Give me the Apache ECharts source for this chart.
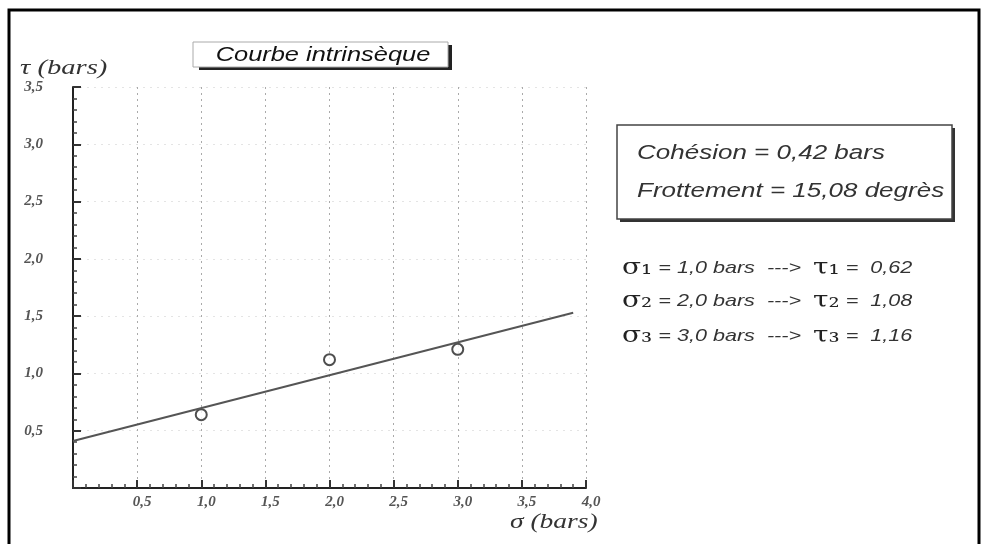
<!DOCTYPE html>
<html>
<head>
<meta charset="utf-8">
<script src="https://cdn.jsdelivr.net/npm/echarts@6/dist/echarts.min.js"></script>
<style>html,body{margin:0;padding:0;background:#fff}#c{width:988px;height:544px}</style>
</head>
<body>
<div id="c"></div>
<script>
// ---- data ----
const xTicks = [0, 0.5, 1.0, 1.5, 2.0, 2.5, 3.0, 3.5, 4.0];
const yTicks = [0, 0.5, 1.0, 1.5, 2.0, 2.5, 3.0, 3.5];
const pointSigma = [1.0, 2.0, 3.0];
const pointTau = [0.64, 1.12, 1.21];
const lineSigma = [0, 3.9];
const lineTau = [0.41, 1.53];
const sigmaText = ['1,0', '2,0', '3,0'];
const tauText = ['0,62', '1,08', '1,16'];
const titleText = 'Courbe intrinsèque';
const cohesionText = 'Cohésion = 0,42 bars';
const frottementText = 'Frottement = 15,08 degrès';
const yName = 'τ (bars)';
const xName = 'σ (bars)';

const fmt = v => (v === 0 ? '' : v.toFixed(1).replace('.', ','));
const subs = ['₁', '₂', '₃'];

const chart = echarts.init(document.getElementById('c'));
const lineY = [268, 301, 336];
const resultLines = sigmaText.map((s, i) => ({
  type: 'text', x: 622, y: lineY[i], scaleX: 1.27,
  style: {
    x: 0, y: 0, align: 'left', verticalAlign: 'middle',
    text: '{g|σ' + subs[i] + '}{t| = ' + s + ' bars  --->  }{g|τ' + subs[i] + '}{t| =  ' + tauText[i] + '}',
    rich: {
      g: { fontFamily: 'DejaVu Serif', fontSize: 22, fill: '#222' },
      t: { fontFamily: 'Liberation Sans', fontStyle: 'italic', fontSize: 17, fill: '#333' }
    }
  }
}));

function txt(x, y, text, font, fill, align, sx) {
  return { type: 'text', x: x, y: y, scaleX: sx || 1.2,
    style: { x: 0, y: 0, text: text, font: font, fill: fill, align: align || 'left', verticalAlign: 'middle' } };
}

chart.setOption({
  animation: false,
  backgroundColor: '#fff',
  grid: { left: 73, right: 402, top: 87, bottom: 56 },
  xAxis: {
    type: 'value', min: 0, max: 4, interval: 0.5,
    axisLine: { lineStyle: { color: '#222', width: 2 } },
    axisTick: { show: true, inside: true, length: 8, lineStyle: { color: '#333', width: 2 } },
    minorTick: { show: true, splitNumber: 5, length: 4, lineStyle: { color: '#444', width: 1.5 } },
    splitLine: { show: true, lineStyle: { color: '#aaa', type: [2, 4], width: 1 } },
    axisLabel: { formatter: fmt, fontFamily: 'Liberation Serif', fontStyle: 'italic', fontWeight: 'bold', fontSize: 15, color: '#555', margin: 7, padding: [0, 0, 0, 10] }
  },
  yAxis: {
    type: 'value', min: 0, max: 3.5, interval: 0.5,
    axisLine: { show: true, lineStyle: { color: '#222', width: 2 } },
    axisTick: { show: true, inside: true, length: 8, lineStyle: { color: '#333', width: 2 } },
    minorTick: { show: true, splitNumber: 5, length: 4, lineStyle: { color: '#444', width: 1.5 } },
    splitLine: { show: true, lineStyle: { color: '#e4e4e4', type: [2, 5], width: 1 } },
    axisLabel: { formatter: fmt, fontFamily: 'Liberation Serif', fontStyle: 'italic', fontWeight: 'bold', fontSize: 15, color: '#555', margin: 30 }
  },
  series: [
    {
      type: 'line', data: lineSigma.map((x, i) => [x, lineTau[i]]),
      symbol: 'none', lineStyle: { color: '#555', width: 2 }
    },
    {
      type: 'scatter', data: pointSigma.map((x, i) => [x, pointTau[i]]),
      symbol: 'circle', symbolSize: 11,
      itemStyle: { color: '#fff', borderColor: '#222', borderWidth: 2 }
    }
  ],
  graphic: [
    { type: 'rect', shape: { x: 9, y: 10, width: 970, height: 560 }, style: { fill: 'none', stroke: '#000', lineWidth: 3 } },
    // title box
    { type: 'rect', shape: { x: 199, y: 45, width: 253, height: 25 }, style: { fill: '#222' } },
    { type: 'rect', shape: { x: 193, y: 42, width: 255, height: 25 }, style: { fill: '#fff', stroke: '#aaa', lineWidth: 1 } },
    txt(323, 55, titleText, 'italic 21px "Liberation Sans"', '#111', 'center', 1.21),
    // y name
    txt(20, 68, yName, 'italic 22px "Liberation Serif"', '#333', 'left', 1.3),
    // x name
    txt(510, 522, xName, 'italic 22px "Liberation Serif"', '#333', 'left', 1.25),
    // info box
    { type: 'rect', shape: { x: 620, y: 128, width: 335, height: 94 }, style: { fill: '#333' } },
    { type: 'rect', shape: { x: 617, y: 125, width: 335, height: 94 }, style: { fill: '#fff', stroke: '#444', lineWidth: 1.5 } },
    txt(637, 153, cohesionText, 'italic 20px "Liberation Sans"', '#333', 'left', 1.3),
    txt(637, 191, frottementText, 'italic 20px "Liberation Sans"', '#333', 'left', 1.3)
  ].concat(resultLines)
});
</script>
</body>
</html>
